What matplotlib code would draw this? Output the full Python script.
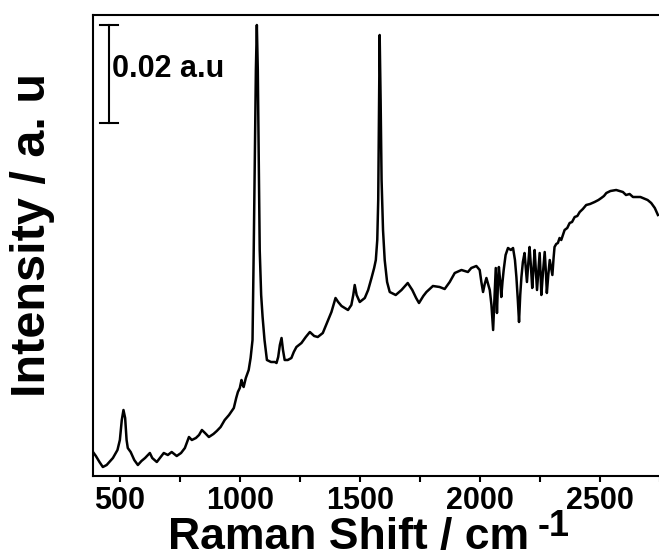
import matplotlib
matplotlib.use('Agg')
import matplotlib.pyplot as plt
import numpy as np
from matplotlib.ticker import MultipleLocator

plt.rcParams['font.family'] = ['Liberation Sans', 'DejaVu Sans']
plt.rcParams['font.weight'] = 'bold'

# ── Raman spectrum ──
raman_shift = [
    388, 400, 415, 429, 445, 460, 471, 490, 500, 508, 515, 522, 528, 533, 545,
    560, 575, 590, 605, 625, 635, 654, 670, 683, 700, 716, 737, 755, 771, 788,
    800, 817, 830, 842, 855, 871, 890, 904, 920, 937, 955, 975, 985, 992, 1000,
    1007, 1012, 1016, 1025, 1037, 1045, 1053, 1058, 1063, 1067, 1071, 1075, 1079,
    1083, 1089, 1095, 1103, 1113, 1130, 1146, 1153, 1160, 1167, 1174, 1180, 1187,
    1200, 1215, 1225, 1236, 1257, 1275, 1292, 1310, 1325, 1346, 1365, 1382, 1399,
    1410, 1424, 1451, 1465, 1473, 1479, 1487, 1500, 1521, 1535, 1549, 1560, 1567,
    1573, 1577, 1580, 1583, 1587, 1591, 1597, 1604, 1614, 1625, 1650, 1674, 1700,
    1719, 1735, 1747, 1765, 1778, 1805, 1833, 1854, 1875, 1896, 1924, 1951, 1965,
    1986, 2000, 2007, 2014, 2021, 2028, 2035, 2042, 2049, 2056, 2062, 2067, 2072,
    2076, 2080, 2085, 2090, 2095, 2100, 2108, 2118, 2130, 2139, 2147, 2153, 2159,
    2164, 2169, 2174, 2180, 2187, 2192, 2197, 2203, 2208, 2214, 2219, 2224, 2229,
    2234, 2239, 2245, 2250, 2254, 2257, 2264, 2271, 2276, 2280, 2286, 2292, 2298,
    2303, 2308, 2312, 2319, 2326, 2333, 2340, 2354, 2365, 2375, 2385, 2396, 2407,
    2417, 2430, 2444, 2460, 2479, 2495, 2507, 2518, 2528, 2545, 2569, 2583, 2597,
    2610, 2625, 2639, 2655, 2670, 2680, 2700, 2715, 2730, 2743,
]
# height above the lower axis, in units where 98 = 0.02 a.u.
height = [
    24, 20, 14, 9, 11, 15, 18, 26, 36, 56, 66, 58, 36, 28, 24,
    16, 11, 15, 18, 23, 18, 14, 19, 23, 21, 24, 20, 23, 28, 39,
    36, 38, 41, 46, 43, 39, 42, 45, 49, 56, 61, 68, 78, 84, 88,
    96, 91, 89, 98, 106, 118, 136, 226, 326, 406, 451, 406, 316,
    226, 181, 159, 136, 116, 114, 114, 113, 119, 131, 138, 126, 116,
    116, 118, 124, 129, 133, 139, 144, 140, 139, 143, 154, 164, 178,
    174, 170, 166, 171, 181, 191, 181, 174, 178, 186, 198, 208, 216,
    236, 276, 356, 441, 376, 296, 246, 216, 194, 184, 181, 186, 193,
    186, 178, 173, 180, 184, 190, 189, 187, 194, 203, 206, 204, 208,
    210, 206, 194, 184, 192, 198, 192, 186, 171, 146, 181, 208, 163,
    191, 209, 196, 179, 194, 206, 221, 228, 226, 228, 216, 199, 176,
    154, 181, 199, 214, 223, 208, 194, 214, 229, 208, 188, 206, 226,
    206, 186, 206, 223, 201, 181, 204, 224, 204, 183, 201, 216, 208,
    201, 218, 229, 232, 233, 238, 236, 246, 248, 253, 254, 259, 260,
    264, 267, 271, 272, 274, 276, 278, 280, 283, 285, 286, 285, 284,
    281, 282, 279, 279, 279, 278, 276, 273, 268, 261,
]
AU_PER_UNIT = 0.02 / 98
intensity = np.array(height) * AU_PER_UNIT

scale_bar = 0.02          # a.u.
scale_bar_top = 451 * AU_PER_UNIT

W, H = 659, 560
fig = plt.figure(figsize=(W / 100, H / 100), dpi=100)
ax = fig.add_axes([93 / W, 84 / H, 569 / W, 461 / H])

ax.plot(raman_shift, intensity, color='black', lw=1.8)

ax.set_xlim(388, 2760)
ax.set_ylim(0, 461 * AU_PER_UNIT)
ax.xaxis.set_major_locator(MultipleLocator(500))
ax.xaxis.set_minor_locator(MultipleLocator(250))
ax.set_yticks([])
ax.tick_params(axis='x', which='both', direction='out', length=4, width=1.5,
               labelsize=22, pad=3)
for lbl in ax.get_xticklabels():
    lbl.set_fontweight('bold')
for sp in ax.spines.values():
    sp.set_linewidth(1.5)

# axis titles (placed in figure pixels)
fig.text(168 / W, 1 - 549 / H, 'Raman Shift / cm', fontsize=32, fontweight='bold',
         ha='left', va='baseline')
fig.text(538 / W, 1 - 536 / H, '-1', fontsize=26, fontweight='bold',
         ha='left', va='baseline')
fig.text(33 / W, 1 - 235 / H, 'Intensity / a. u', fontsize=35, fontweight='bold',
         rotation=90, ha='center', va='center')

# scale bar
xb = 455
ax.plot([xb, xb], [scale_bar_top - scale_bar, scale_bar_top], color='black', lw=1.5)
for yy in (scale_bar_top - scale_bar, scale_bar_top):
    ax.plot([xb - 37, xb + 37], [yy, yy], color='black', lw=1.5)
ax.text(xb + 12, scale_bar_top - scale_bar * 0.45, '0.02 a.u', fontsize=22,
        fontweight='bold', ha='left', va='center')

fig.savefig('out.png', dpi=100)
